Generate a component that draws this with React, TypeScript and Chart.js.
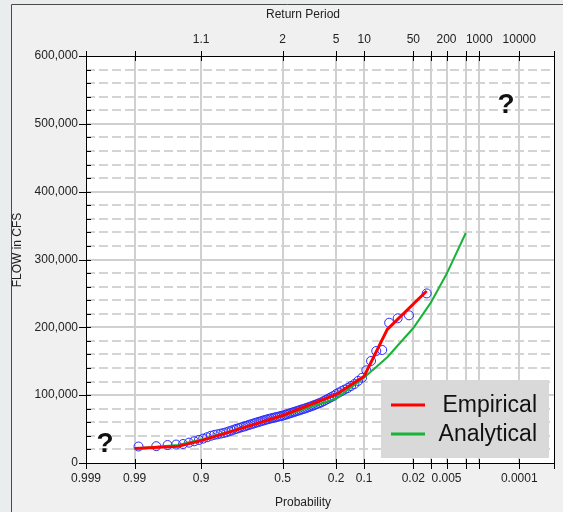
import React, { useEffect, useRef } from "react";
import { Chart, registerables } from "chart.js";

Chart.register(...registerables);

const W = 563;
const H = 512;
const FONT = "'Liberation Sans', Arial, sans-serif";

// Probability axis ticks (exceedance probability) and labels
const probTicks = [0.999, 0.99, 0.9, 0.5, 0.2, 0.1, 0.02, 0.01, 0.005, 0.002, 0.001, 0.0001, 0.00001];
const probLabels = ["0.999", "0.99", "0.9", "0.5", "0.2", "0.1", "0.02", "", "0.005", "", "", "0.0001", ""];
const returnLabels = ["", "", "1.1", "2", "5", "10", "50", "", "200", "", "1000", "10000", ""];

// Observed annual peaks, ranked largest first (CFS)
const empiricalFlows = [
  250000, 217700, 213300, 206800, 166600, 165100, 150400, 136700, 125700, 121000,
  116500, 113500, 110500, 108300, 106100, 103900, 101700, 98900, 97000, 95100,
  93200, 91300, 89500, 88200, 86900, 85700, 84500, 83300, 82300, 81200,
  80200, 79300, 78400, 77400, 76500, 75600, 74700, 73800, 72900, 72000,
  71100, 70200, 69500, 68900, 68200, 67500, 66900, 66200, 65500, 64800,
  64000, 63200, 62300, 61400, 60500, 59600, 58700, 57700, 56800, 55800,
  54700, 53700, 52700, 51600, 50500, 49300, 48000, 46700, 45300, 44200,
  43300, 42300, 41400, 40100, 38000, 36000, 34000, 32000, 30000, 28000,
  27200, 26500, 24800, 24300,
];

// Empirical frequency curve
const empiricalProbs = [0.99, 0.95, 0.9, 0.8, 0.5, 0.2, 0.1, 0.05, 0.0118];
const empiricalCurve = [21500, 24500, 33000, 45500, 70000, 101000, 128000, 197000, 253500];

// Analytical frequency curve
const analyticalProbs = [0.99, 0.95, 0.9, 0.8, 0.5, 0.2, 0.1, 0.05, 0.02, 0.01, 0.005, 0.002];
const analyticalCurve = [21500, 26500, 34500, 46500, 69000, 95000, 126000, 156000, 199000, 236000, 278500, 339000];

const legendLabels = ["Empirical", "Analytical"];

// inverse standard normal CDF (Acklam)
function normInv(p: number): number {
  const a = [-39.69683028665376, 220.9460984245205, -275.9285104469687, 138.357751867269, -30.66479806614716, 2.506628277459239];
  const b = [-54.47609879822406, 161.5858368580409, -155.6989798598866, 66.80131188771972, -13.28068155288572];
  const c = [-0.007784894002430293, -0.3223964580411365, -2.400758277161838, -2.549732539343734, 4.374664141464968, 2.938163982698783];
  const d = [0.007784695709041462, 0.3224671290700398, 2.445134137142996, 3.754408661907416];
  const plow = 0.02425;
  if (p < plow) {
    const q = Math.sqrt(-2 * Math.log(p));
    return (((((c[0] * q + c[1]) * q + c[2]) * q + c[3]) * q + c[4]) * q + c[5]) / ((((d[0] * q + d[1]) * q + d[2]) * q + d[3]) * q + 1);
  }
  if (p <= 1 - plow) {
    const q = p - 0.5;
    const r = q * q;
    return (((((a[0] * r + a[1]) * r + a[2]) * r + a[3]) * r + a[4]) * r + a[5]) * q / (((((b[0] * r + b[1]) * r + b[2]) * r + b[3]) * r + b[4]) * r + 1);
  }
  const q = Math.sqrt(-2 * Math.log(1 - p));
  return -(((((c[0] * q + c[1]) * q + c[2]) * q + c[3]) * q + c[4]) * q + c[5]) / ((((d[0] * q + d[1]) * q + d[2]) * q + d[3]) * q + 1);
}
// exceedance probability -> standard normal variate
const zOf = (pExc: number) => -normInv(pExc);

const Z_MIN = zOf(probTicks[0]);
const Z_MAX = zOf(probTicks[probTicks.length - 1]);

const RED = "#ff0000";
const GREEN = "#16b336";
const BLUE = "#2b2bff";

const decorPlugin = {
  id: "decor",
  beforeDraw(chart: any) {
    const { ctx, chartArea: a } = chart;
    ctx.save();
    ctx.fillStyle = "#eaeded";
    ctx.fillRect(0, 0, W, H);
    ctx.fillStyle = "#f0f0f0";
    ctx.fillRect(11, 4, W, H);
    ctx.strokeStyle = "#4a4a4a";
    ctx.lineWidth = 1;
    ctx.beginPath();
    ctx.moveTo(11.5, H);
    ctx.lineTo(11.5, 4.5);
    ctx.lineTo(W, 4.5);
    ctx.stroke();
    ctx.fillStyle = "#ffffff";
    ctx.fillRect(a.left, a.top, a.right - a.left, a.bottom - a.top);
    ctx.restore();
  },
  beforeDatasetsDraw(chart: any) {
    const { ctx, chartArea: a, scales } = chart;
    const xs = scales.x;
    const ys = scales.y;
    ctx.save();
    ctx.lineWidth = 2;
    ys.ticks.forEach((t: any) => {
      const v = t.value;
      if (v <= 0 || v >= 600000) return;
      const y = Math.round(ys.getPixelForValue(v));
      ctx.beginPath();
      if (v % 100000 === 0) {
        ctx.setLineDash([]);
        ctx.strokeStyle = "#d0d0d0";
      } else {
        ctx.setLineDash([9, 4]);
        ctx.strokeStyle = "#d4d4d4";
      }
      ctx.moveTo(a.left, y);
      ctx.lineTo(a.right, y);
      ctx.stroke();
    });
    ctx.setLineDash([]);
    ctx.strokeStyle = "#d0d0d0";
    xs.ticks.forEach((t: any, i: number) => {
      if (i === 0 || i === xs.ticks.length - 1) return;
      const x = Math.round(xs.getPixelForValue(t.value));
      ctx.beginPath();
      ctx.moveTo(x, a.top);
      ctx.lineTo(x, a.bottom);
      ctx.stroke();
    });
    ctx.restore();
  },
  afterDatasetsDraw(chart: any) {
    const { ctx, chartArea: a, scales } = chart;
    const xs = scales.x;
    const ys = scales.y;
    ctx.save();
    ctx.strokeStyle = "#000";
    ctx.lineWidth = 1;
    ctx.strokeRect(a.left + 0.5, a.top + 0.5, a.right - a.left, a.bottom - a.top);
    ctx.beginPath();
    xs.ticks.forEach((t: any) => {
      const x = Math.round(xs.getPixelForValue(t.value)) + 0.5;
      ctx.moveTo(x, a.bottom - 4);
      ctx.lineTo(x, a.bottom + 6);
      ctx.moveTo(x, a.top - 5);
      ctx.lineTo(x, a.top + 5);
    });
    ys.ticks.forEach((t: any) => {
      const y = Math.round(ys.getPixelForValue(t.value)) + 0.5;
      if (t.value % 100000 === 0) {
        ctx.moveTo(a.left - 7, y);
        ctx.lineTo(a.left + 5, y);
      } else {
        ctx.moveTo(a.left, y);
        ctx.lineTo(a.left + 5, y);
      }
    });
    ctx.stroke();

    // axis titles
    ctx.fillStyle = "#222";
    ctx.font = `12px ${FONT}`;
    ctx.textAlign = "center";
    ctx.textBaseline = "middle";
    ctx.fillText("Return Period", 303, 15);
    ctx.fillText("Probability", 303, 503);
    ctx.save();
    ctx.translate(18, 250);
    ctx.rotate(-Math.PI / 2);
    ctx.fillText("FLOW in CFS", 0, 0);
    ctx.restore();

    // legend
    ctx.fillStyle = "#d9d9d9";
    ctx.fillRect(381, 380, 168, 78);
    const colors = [RED, GREEN];
    const ly = [405, 434];
    legendLabels.forEach((lab, i) => {
      ctx.strokeStyle = colors[i];
      ctx.lineWidth = 3;
      ctx.beginPath();
      ctx.moveTo(391, ly[i]);
      ctx.lineTo(425, ly[i]);
      ctx.stroke();
      ctx.fillStyle = "#111";
      ctx.font = `23px ${FONT}`;
      ctx.textAlign = "right";
      ctx.textBaseline = "middle";
      ctx.fillText(lab, 537, ly[i] + 1);
    });

    // question marks
    ctx.fillStyle = "#111";
    ctx.font = `bold 28px ${FONT}`;
    ctx.textAlign = "center";
    ctx.textBaseline = "middle";
    ctx.fillText("?", 506, 105);
    ctx.fillText("?", 105, 444);
    ctx.restore();
  },
};

export default function App() {
  const ref = useRef<HTMLCanvasElement>(null);
  useEffect(() => {
    document.body.style.margin = "0";
    const n = empiricalFlows.length;
    const pts = empiricalFlows.map((f, i) => ({ x: zOf((i + 1) / (n + 1)), y: f }));
    const emp = empiricalProbs.map((p, i) => ({ x: zOf(p), y: empiricalCurve[i] }));
    const ana = analyticalProbs.map((p, i) => ({ x: zOf(p), y: analyticalCurve[i] }));
    const setTicks = (scale: any) => {
      scale.ticks = probTicks.map((p) => ({ value: zOf(p) }));
    };
    const tickFont = { family: FONT, size: 12 };
    const chart = new Chart(ref.current!, {
      type: "scatter",
      data: {
        datasets: [
          {
            label: "Observed",
            data: pts,
            showLine: false,
            pointStyle: "circle",
            pointRadius: 4.5,
            pointBorderWidth: 1,
            borderColor: BLUE,
            backgroundColor: "rgba(0,0,0,0)",
            order: 3,
          },
          {
            label: "Analytical",
            data: ana,
            showLine: true,
            pointRadius: 0,
            borderColor: GREEN,
            borderWidth: 2,
            order: 2,
          },
          {
            label: "Empirical",
            data: emp,
            showLine: true,
            pointRadius: 0,
            borderColor: RED,
            borderWidth: 3,
            order: 1,
          },
        ],
      } as any,
      options: {
        responsive: false,
        animation: false,
        devicePixelRatio: 1,
        layout: { padding: { left: 0, right: 7, top: 0, bottom: 0 } },
        plugins: { legend: { display: false }, tooltip: { enabled: false } },
        scales: {
          x: {
            type: "linear",
            position: "bottom",
            min: Z_MIN,
            max: Z_MAX,
            afterBuildTicks: setTicks,
            afterFit: (s: any) => { s.height = 49; },
            grid: { display: false, drawTicks: false },
            border: { display: false },
            ticks: {
              autoSkip: false,
              maxRotation: 0,
              padding: 8,
              color: "#222",
              font: tickFont,
              callback: (_v: any, i: number) => probLabels[i],
            },
          },
          x2: {
            type: "linear",
            axis: "x",
            position: "top",
            min: Z_MIN,
            max: Z_MAX,
            afterBuildTicks: setTicks,
            afterFit: (s: any) => { s.height = 56; },
            grid: { display: false, drawTicks: false },
            border: { display: false },
            ticks: {
              autoSkip: false,
              maxRotation: 0,
              padding: 9,
              color: "#222",
              font: tickFont,
              callback: (_v: any, i: number) => returnLabels[i],
            },
          },
          y: {
            type: "linear",
            min: 0,
            max: 600000,
            afterFit: (s: any) => { s.width = 86; },
            grid: { display: false, drawTicks: false },
            border: { display: false },
            ticks: {
              stepSize: 20000,
              autoSkip: false,
              padding: 8,
              color: "#222",
              font: tickFont,
              callback: (v: any) => (v % 100000 === 0 ? Number(v).toLocaleString("en-US") : ""),
            },
          },
        },
      } as any,
      plugins: [decorPlugin],
    });
    return () => chart.destroy();
  }, []);
  return (
    <div style={{ width: W, height: H }}>
      <canvas ref={ref} width={W} height={H} style={{ width: W, height: H, display: "block" }} />
    </div>
  );
}
